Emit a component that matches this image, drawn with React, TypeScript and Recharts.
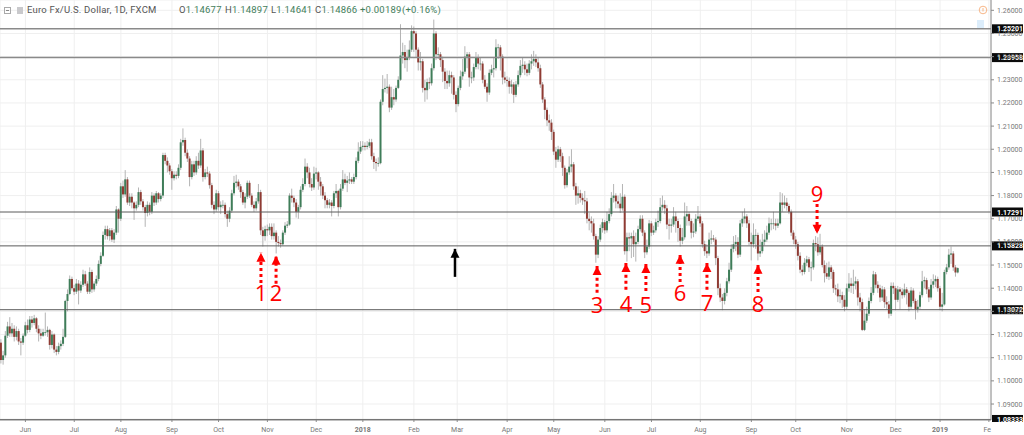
import { Bar, CartesianGrid, ComposedChart, ReferenceDot, ReferenceLine, XAxis, YAxis } from "recharts";

// daily EUR/USD candles, in pips (price * 10000)
const opens = [
  11165,11090,11110,11195,11235,11205,11225,11190,11215,11170,11165,11195,11240,11220,11265,11250,11270,11225,11205,11195,
  11210,11210,11220,11155,11200,11135,11125,11150,11160,11190,11345,11375,11440,11400,11385,11420,11390,11415,11460,11420,
  11385,11470,11395,11420,11440,11505,11540,11630,11655,11625,11650,11610,11640,11740,11700,11840,11805,11870,11770,11795,
  11770,11745,11760,11815,11775,11750,11725,11760,11730,11800,11770,11810,11785,11800,11975,11950,11930,11905,11875,11890,
  11885,11920,12030,12040,11985,11960,11880,11935,11900,11950,11930,11995,11880,11900,11895,11845,11760,11740,11810,11750,
  11760,11760,11720,11700,11735,11810,11855,11860,11840,11815,11770,11795,11855,11800,11760,11745,11775,11815,11650,11625,
  11655,11650,11665,11625,11640,11600,11595,11590,11640,11670,11675,11800,11790,11770,11730,11750,11825,11850,11925,11900,
  11850,11835,11895,11900,11860,11840,11800,11780,11760,11770,11755,11810,11820,11750,11830,11870,11855,11865,11870,11860,
  11880,11950,11990,12010,12015,12010,12015,12030,11970,11945,11940,11940,12205,12260,12265,12270,12180,12225,12215,12265,
  12300,12405,12420,12385,12395,12430,12510,12500,12430,12375,12380,12265,12255,12290,12285,12350,12500,12410,12410,12385,
  12335,12295,12285,12320,12310,12235,12195,12265,12315,12335,12400,12410,12310,12310,12355,12395,12370,12370,12300,12270,
  12245,12330,12345,12350,12440,12440,12400,12310,12300,12295,12270,12280,12235,12280,12320,12360,12365,12345,12330,12370,
  12380,12390,12375,12350,12280,12215,12170,12125,12115,12075,11990,11955,12000,11970,11920,11845,11900,11925,11935,11840,
  11800,11810,11790,11780,11775,11700,11690,11680,11625,11545,11610,11660,11685,11650,11690,11720,11790,11800,11775,11765,
  11745,11795,11560,11620,11615,11625,11590,11600,11655,11700,11640,11555,11580,11680,11640,11650,11685,11690,11750,11760,
  11745,11675,11670,11675,11710,11690,11660,11605,11620,11710,11720,11690,11640,11645,11700,11710,11680,11590,11560,11550,
  11610,11615,11610,11530,11400,11360,11345,11380,11430,11480,11570,11590,11600,11545,11680,11700,11710,11680,11600,11590,
  11630,11630,11550,11560,11600,11610,11640,11680,11680,11680,11670,11680,11770,11760,11770,11755,11730,11640,11610,11590,
  11540,11480,11470,11510,11525,11490,11490,11595,11590,11555,11580,11500,11465,11450,11490,11470,11400,11395,11365,11370,
  11350,11320,11400,11420,11410,11420,11430,11360,11340,11220,11260,11290,11345,11380,11460,11415,11400,11360,11395,11340,
  11330,11290,11410,11400,11350,11395,11385,11370,11395,11380,11320,11390,11345,11310,11320,11370,11430,11435,11395,11360,
  11415,11430,11440,11400,11320,11330,11470,11490,11545,11550,11490,11468,
];
const highs = [
  11180,11130,11215,11255,11275,11250,11240,11235,11225,11185,11205,11255,11265,11280,11280,11285,11275,11240,11225,11225,
  11295,11235,11225,11215,11205,11150,11165,11175,11225,11350,11395,11455,11450,11415,11440,11435,11430,11480,11475,11430,
  11490,11480,11430,11455,11520,11555,11645,11670,11670,11660,11660,11655,11755,11745,11855,11865,11910,11880,11810,11810,
  11775,11775,11835,11825,11785,11760,11775,11770,11815,11810,11820,11815,11810,11985,11985,11965,11940,11915,11905,11905,
  11935,12045,12090,12050,12000,11970,11950,11950,11970,11985,12045,12005,11915,11925,11905,11855,11775,11825,11820,11775,
  11780,11770,11735,11750,11825,11885,11890,11870,11850,11825,11810,11865,11865,11810,11775,11790,11850,11825,11665,11670,
  11675,11680,11680,11680,11650,11625,11610,11650,11685,11690,11810,11830,11800,11785,11760,11840,11875,11960,11940,11920,
  11875,11925,11920,11905,11880,11850,11815,11790,11785,11780,11820,11850,11825,11850,11910,11895,11885,11900,11880,11895,
  11965,12030,12035,12035,12030,12035,12045,12045,11985,11960,11965,12215,12320,12305,12325,12280,12270,12260,12275,12315,
  12540,12460,12450,12430,12470,12535,12530,12510,12440,12420,12390,12300,12305,12310,12370,12560,12510,12440,12420,12400,
  12350,12340,12340,12335,12320,12250,12275,12340,12390,12445,12420,12420,12335,12370,12420,12410,12395,12380,12320,12285,
  12345,12365,12395,12475,12455,12450,12410,12335,12315,12310,12300,12290,12295,12340,12385,12395,12380,12370,12385,12410,
  12425,12410,12395,12365,12290,12225,12180,12150,12130,12085,12010,12015,12010,11985,11930,11915,11970,12000,11945,11855,
  11840,11825,11810,11820,11790,11725,11710,11700,11635,11625,11675,11700,11695,11730,11745,11815,11850,11810,11800,11810,
  11850,11805,11640,11640,11640,11650,11640,11670,11715,11715,11650,11610,11695,11690,11670,11700,11735,11790,11800,11780,
  11760,11700,11700,11750,11730,11700,11675,11660,11770,11755,11730,11700,11680,11720,11755,11720,11690,11605,11590,11640,
  11650,11630,11620,11540,11420,11375,11400,11445,11510,11590,11625,11630,11620,11695,11730,11745,11720,11695,11640,11680,
  11655,11640,11610,11635,11650,11670,11705,11700,11730,11700,11700,11815,11810,11800,11790,11765,11740,11650,11625,11600,
  11555,11500,11530,11540,11535,11515,11610,11625,11620,11635,11590,11520,11510,11515,11500,11480,11415,11420,11395,11385,
  11370,11420,11465,11445,11480,11450,11440,11380,11355,11310,11320,11360,11405,11475,11470,11430,11415,11410,11405,11365,
  11345,11425,11425,11410,11410,11405,11400,11420,11405,11390,11405,11400,11355,11350,11385,11475,11450,11445,11405,11440,
  11460,11455,11450,11410,11380,11480,11505,11570,11580,11560,11500,11490,
];
const lows = [
  11075,11070,11100,11185,11190,11190,11170,11175,11155,11110,11155,11190,11205,11210,11230,11240,11210,11170,11180,11190,
  11195,11190,11135,11140,11120,11110,11115,11135,11150,11185,11300,11370,11390,11370,11375,11330,11380,11405,11410,11375,
  11375,11380,11385,11410,11430,11495,11535,11610,11610,11605,11600,11595,11630,11640,11690,11790,11795,11760,11755,11745,
  11695,11735,11750,11760,11735,11665,11710,11715,11720,11755,11760,11770,11775,11790,11935,11900,11890,11825,11865,11870,
  11875,11910,12015,11970,11945,11840,11870,11885,11890,11915,11920,11860,11870,11880,11830,11745,11720,11730,11735,11720,
  11745,11705,11665,11685,11725,11800,11835,11825,11790,11760,11745,11785,11790,11750,11730,11735,11765,11630,11580,11605,
  11625,11630,11610,11610,11550,11580,11575,11585,11630,11660,11670,11770,11750,11705,11700,11740,11815,11840,11875,11835,
  11820,11825,11870,11825,11800,11785,11745,11745,11745,11710,11745,11790,11710,11740,11820,11845,11815,11850,11850,11850,
  11870,11940,11980,11995,11995,12000,12005,11955,11915,11905,11925,11935,12190,12245,12240,12160,12170,12190,12205,12260,
  12295,12370,12350,12335,12385,12420,12420,12395,12340,12340,12245,12205,12215,12260,12275,12340,12385,12390,12355,12290,
  12260,12260,12270,12240,12215,12160,12185,12255,12300,12325,12350,12270,12285,12295,12345,12345,12340,12285,12260,12205,
  12235,12320,12310,12340,12390,12340,12280,12285,12270,12240,12240,12200,12225,12270,12310,12330,12320,12315,12320,12345,
  12360,12355,12335,12265,12200,12130,12100,12080,12040,11975,11920,11945,11945,11885,11830,11835,11890,11900,11825,11760,
  11765,11770,11760,11720,11680,11650,11640,11610,11510,11530,11600,11640,11635,11640,11680,11710,11770,11745,11745,11725,
  11735,11545,11515,11560,11530,11535,11515,11590,11645,11625,11530,11545,11570,11625,11630,11640,11665,11680,11735,11720,
  11655,11610,11640,11665,11640,11600,11580,11590,11610,11670,11670,11615,11620,11635,11690,11665,11575,11540,11530,11540,
  11590,11600,11500,11370,11340,11305,11330,11365,11420,11470,11555,11560,11530,11535,11665,11680,11660,11585,11520,11575,
  11570,11520,11535,11550,11585,11600,11630,11650,11655,11650,11660,11675,11730,11745,11735,11720,11625,11590,11570,11520,
  11465,11455,11460,11495,11470,11430,11480,11560,11540,11545,11490,11425,11440,11435,11440,11380,11370,11340,11335,11315,
  11300,11310,11385,11380,11375,11395,11325,11300,11215,11215,11250,11280,11335,11370,11400,11380,11340,11345,11315,11310,
  11270,11280,11375,11305,11340,11310,11355,11360,11330,11300,11310,11335,11265,11295,11310,11360,11400,11375,11340,11350,
  11400,11405,11385,11305,11300,11325,11460,11480,11505,11475,11450,11464,
];
const closes = [
  11090,11110,11195,11235,11205,11225,11190,11215,11170,11165,11195,11240,11220,11265,11250,11270,11225,11205,11195,11210,
  11210,11220,11155,11200,11135,11125,11150,11160,11190,11345,11375,11440,11400,11385,11420,11390,11415,11460,11420,11385,
  11470,11395,11420,11440,11505,11540,11630,11655,11625,11650,11610,11640,11740,11700,11840,11805,11870,11770,11795,11770,
  11745,11760,11815,11775,11750,11725,11760,11730,11800,11770,11810,11785,11800,11975,11950,11930,11905,11875,11890,11885,
  11920,12030,12040,11985,11960,11880,11935,11900,11950,11930,11995,11880,11900,11895,11845,11760,11740,11810,11750,11760,
  11760,11720,11700,11735,11810,11855,11860,11840,11815,11770,11795,11855,11800,11760,11745,11775,11815,11650,11625,11655,
  11650,11665,11625,11640,11600,11595,11590,11640,11670,11675,11800,11790,11770,11730,11750,11825,11850,11925,11900,11850,
  11835,11895,11900,11860,11840,11800,11780,11760,11770,11755,11810,11820,11750,11830,11870,11855,11865,11870,11860,11880,
  11950,11990,12010,12015,12010,12015,12030,11970,11945,11940,11940,12205,12260,12265,12270,12180,12225,12215,12265,12300,
  12405,12420,12385,12395,12430,12510,12500,12430,12375,12380,12265,12255,12290,12285,12350,12500,12410,12410,12385,12335,
  12295,12285,12320,12310,12235,12195,12265,12315,12335,12400,12410,12310,12310,12355,12395,12370,12370,12300,12270,12245,
  12330,12345,12350,12440,12440,12400,12310,12300,12295,12270,12280,12235,12280,12320,12360,12365,12345,12330,12370,12380,
  12390,12375,12350,12280,12215,12170,12125,12115,12075,11990,11955,12000,11970,11920,11845,11900,11925,11935,11840,11800,
  11810,11790,11780,11775,11700,11690,11680,11625,11545,11610,11660,11685,11650,11690,11720,11790,11800,11775,11765,11745,
  11795,11560,11620,11615,11625,11590,11600,11655,11700,11640,11555,11580,11680,11640,11650,11685,11690,11750,11760,11745,
  11675,11670,11675,11710,11690,11660,11605,11620,11710,11720,11690,11640,11645,11700,11710,11680,11590,11560,11550,11610,
  11615,11610,11530,11400,11360,11345,11380,11430,11480,11570,11590,11600,11545,11680,11700,11710,11680,11600,11590,11630,
  11630,11550,11560,11600,11610,11640,11680,11680,11680,11670,11680,11770,11760,11770,11755,11730,11640,11610,11590,11540,
  11480,11470,11510,11525,11490,11490,11595,11590,11555,11580,11500,11465,11450,11490,11470,11400,11395,11365,11370,11350,
  11320,11400,11420,11410,11420,11430,11360,11340,11220,11260,11290,11345,11380,11460,11415,11400,11360,11395,11340,11330,
  11290,11410,11400,11350,11395,11385,11370,11395,11380,11320,11390,11345,11310,11320,11370,11430,11435,11395,11360,11415,
  11430,11440,11400,11320,11330,11470,11490,11545,11550,11490,11468,11487,
];

const monthLabels = ["Jun","Jul","Aug","Sep","Oct","Nov","Dec","2018","Feb","Mar","Apr","May","Jun","Jul","Aug","Sep","Oct","Nov","Dec","2019","Fe"];
const monthBars = [11,33,54,77,98,120,142,163,186,205.5,228,249,272,293,315,338,358,381,403,423,445];
const priceTicks = [1.09,1.1,1.11,1.12,1.13,1.14,1.15,1.16,1.17,1.18,1.19,1.2,1.21,1.22,1.23,1.24,1.25,1.26];

const levels = [1.25201, 1.23958, 1.17291, 1.15828, 1.13072, 1.08333];

const arrowLabels = ["1","2","3","4","5","6","7","8","9"];
const arrowBars = [117.1,123.9,268.5,281.5,290.5,305.9,318,341,367.6];
const arrowTips = [1.1553,1.154,1.1496,1.1509,1.1505,1.1544,1.1509,1.1501,1.1635];
const arrowTails = [1.1423,1.1419,1.138,1.1393,1.1388,1.1427,1.1393,1.1384,1.1764];
const arrowLabelPrices = [1.138,1.138,1.1326,1.1332,1.1328,1.1378,1.1337,1.1332,1.1805];

const blackArrowBar = 204.5;
const blackArrowTip = 1.157;
const blackArrowTail = 1.1449;

const candles = closes.map((close, i) => ({
  bar: i,
  open: opens[i] / 10000,
  close: close / 10000,
  high: highs[i] / 10000,
  low: lows[i] / 10000,
  range: [lows[i] / 10000, highs[i] / 10000],
}));

const FONT = "Roboto, sans-serif";
const UP = "#3f7d59";
const DOWN = "#8f3b33";

const Candle = (props: any) => {
  const { x, y, width, height, payload } = props;
  const cx = x + width / 2;
  const perUnit = height / (payload.high - payload.low);
  const yOpen = y + (payload.high - payload.open) * perUnit;
  const yClose = y + (payload.high - payload.close) * perUnit;
  const top = Math.min(yOpen, yClose);
  return (
    <g>
      <line x1={cx} x2={cx} y1={y} y2={y + height} stroke="#b4b4b4" strokeWidth={1} />
      <rect
        x={cx - 1}
        y={top}
        width={2}
        height={Math.max(Math.abs(yClose - yOpen), 0.8)}
        fill={payload.close >= payload.open ? UP : DOWN}
      />
    </g>
  );
};

const PriceTag = (props: any) => {
  const { viewBox, value } = props;
  const y = viewBox.y;
  const id = `tag-${String(value).replace(".", "")}`;
  return (
    <g clipPath={`url(#${id})`}>
      <clipPath id={id}>
        <rect x={991} y={0} width={33} height={422} />
      </clipPath>
      <rect x={992} y={y - 4.5} width={31} height={9} fill="#0b0b0b" />
      <text x={997} y={y + 2.5} fill="#fff" fontSize={7} fontWeight={700} fontFamily={FONT}>
        {Number(value).toFixed(5)}
      </text>
    </g>
  );
};

const MonthTick = (props: any) => {
  const { x, y, index } = props;
  const label = monthLabels[index];
  const isYear = label.length === 4;
  return (
    <text
      x={label === "Fe" ? 991 : x}
      y={y + 8}
      textAnchor={label === "Fe" ? "end" : "middle"}
      fontSize={7}
      fontWeight={isYear ? 700 : 400}
      fill="#777"
      fontFamily={FONT}
    >
      {label}
    </text>
  );
};

const Head = (props: any, down: boolean, color: string) => {
  const { cx, cy } = props;
  const dir = down ? -1 : 1;
  return (
    <polygon
      points={`${cx},${cy} ${cx - 4.5},${cy + dir * 9} ${cx + 4.5},${cy + dir * 9}`}
      fill={color}
    />
  );
};

const quoteParts = [
  { text: "O", value: "1.14677", left: 179 },
  { text: "H", value: "1.14897", left: 225 },
  { text: "L", value: "1.14641", left: 271 },
  { text: "C", value: "1.14866", left: 315 },
  { text: "", value: "+0.00189", left: 360 },
  { text: "", value: "(+0.16%)", left: 402 },
];

export default function App() {
  return (
    <div style={{ position: "absolute", left: 0, top: 0, width: 1024, height: 435, background: "#fff", overflow: "hidden" }}>
      <ComposedChart
        width={1024}
        height={435}
        data={candles}
        margin={{ top: 0, right: 0, bottom: 0, left: 0 }}
      >
        <CartesianGrid stroke="#efefef" strokeWidth={1} />
        <XAxis
          dataKey="bar"
          type="number"
          domain={[-0.45, 445.95]}
          allowDataOverflow
          ticks={monthBars}
          interval={0}
          height={15}
          stroke="#8a8a8a"
          tickSize={2}
          tick={<MonthTick />}
        />
        <YAxis
          orientation="right"
          width={33}
          domain={[1.0831, 1.26445]}
          allowDataOverflow
          ticks={priceTicks}
          interval={0}
          stroke="#8a8a8a"
          tickSize={3}
          tickMargin={3}
          tick={{ fontSize: 7, fill: "#777", fontFamily: FONT }}
          tickFormatter={(v: number) => v.toFixed(5)}
        />
        <Bar dataKey="range" barSize={2} shape={<Candle />} isAnimationActive={false} />
        {levels.map((level, i) => (
          <ReferenceLine
            key={level}
            y={level}
            stroke={i < 2 ? "#8a8a8a" : "#5a5a5a"}
            strokeWidth={i < 2 ? 1.5 : 1}
            label={<PriceTag value={level} />}
          />
        ))}
        {arrowLabels.map((label, i) => (
          <ReferenceLine
            key={`line-${label}`}
            segment={[
              { x: arrowBars[i], y: arrowTails[i] },
              { x: arrowBars[i], y: arrowTips[i] },
            ]}
            stroke="#ff0000"
            strokeWidth={3}
            strokeDasharray="3 3"
          />
        ))}
        {arrowLabels.map((label, i) => (
          <ReferenceDot
            key={`head-${label}`}
            x={arrowBars[i]}
            y={arrowTips[i]}
            shape={(p: any) => Head(p, arrowTails[i] > arrowTips[i], "#ff0000")}
          />
        ))}
        {arrowLabels.map((label, i) => (
          <ReferenceDot
            key={`text-${label}`}
            x={arrowBars[i]}
            y={arrowLabelPrices[i]}
            shape={(p: any) => (
              <text x={p.cx} y={p.cy + 8} textAnchor="middle" fontSize={22} fill="#ff0000" fontFamily="'Open Sans', sans-serif">
                {label}
              </text>
            )}
          />
        ))}
        <ReferenceLine
          segment={[
            { x: blackArrowBar, y: blackArrowTail },
            { x: blackArrowBar, y: blackArrowTip },
          ]}
          stroke="#000"
          strokeWidth={2.5}
        />
        <ReferenceDot
          x={blackArrowBar}
          y={blackArrowTip}
          shape={(p: any) => Head(p, false, "#000")}
        />
      </ComposedChart>

      <svg width={26} height={14} style={{ position: "absolute", left: 3, top: 3 }}>
        <rect x={1.5} y={4.5} width={6} height={6} fill="none" stroke="#aaa" />
        <line x1={3} x2={6} y1={7.5} y2={7.5} stroke="#888" />
        <rect x={14} y={4} width={6} height={7} fill="#c9c9cc" />
      </svg>
      <div style={{ position: "absolute", left: 27, top: 4, fontFamily: FONT, fontSize: 9.5, color: "#555", letterSpacing: 0.2, whiteSpace: "nowrap" }}>
        Euro Fx/U.S. Dollar, 1D, FXCM
      </div>
      {quoteParts.map((part) => (
        <div
          key={part.left}
          style={{ position: "absolute", left: part.left, top: 4, fontFamily: FONT, fontSize: 9.5, letterSpacing: 0.2, whiteSpace: "nowrap", color: "#44805c" }}
        >
          <span style={{ color: "#555" }}>{part.text}</span>
          {part.value}
        </div>
      ))}
      <svg width={14} height={28} style={{ position: "absolute", left: 976, top: 3 }}>
        <circle cx={7} cy={7} r={3.8} fill="none" stroke="#f5a56b" strokeWidth={0.8} />
        <line x1={7} x2={7} y1={5} y2={8.5} stroke="#f5a56b" strokeWidth={0.8} />
        <rect x={1} y={17} width={7} height={8} fill="#dcedfb" />
      </svg>
    </div>
  );
}
